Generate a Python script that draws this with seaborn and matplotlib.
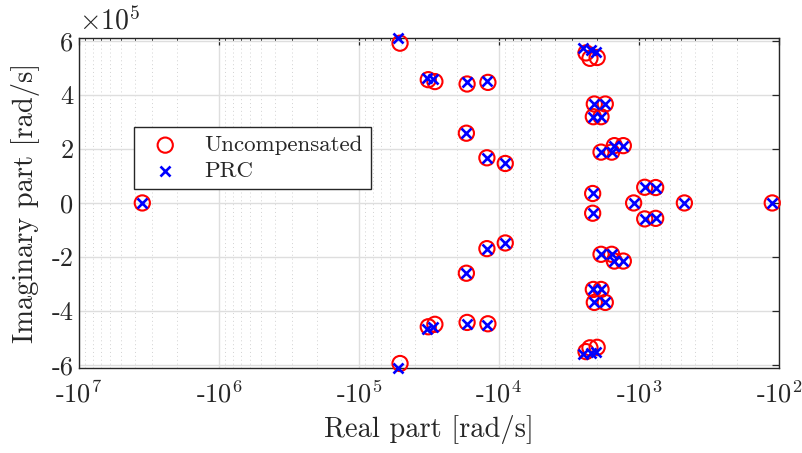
import numpy as np
import pandas as pd
import seaborn as sns
import matplotlib
matplotlib.use("Agg")
import matplotlib.pyplot as plt
from matplotlib.ticker import FixedLocator, FuncFormatter, NullFormatter

# Closed-loop eigenvalues (real part, imaginary part) in rad/s
unc_real = [-3.53e6,
            -5.09e4, -5.09e4, -3.2e4, -3.2e4, -2.87e4, -2.87e4,
            -1.69e4, -1.69e4, -1.2e4, -1.2e4,
            -1.71e4, -1.71e4, -1.22e4, -1.22e4, -9020, -9020,
            -2390, -2390, -2240, -2240, -1990, -1990,
            -2085, -2085, -1741, -1741, -2119, -2119, -1867, -1867,
            -1867, -1867, -1567, -1567, -1500, -1500, -1294, -1294,
            -2142, -2142, -910, -910, -760, -760,
            -1092, -474, -111.7]
unc_imag = [0,
            5.91e5, -5.94e5, 4.56e5, -4.58e5, 4.49e5, -4.49e5,
            4.40e5, -4.42e5, 4.46e5, -4.47e5,
            2.58e5, -2.60e5, 1.67e5, -1.69e5, 1.46e5, -1.48e5,
            5.55e5, -5.50e5, 5.35e5, -5.36e5, 5.38e5, -5.34e5,
            3.66e5, -3.68e5, 3.66e5, -3.68e5, 3.19e5, -3.20e5, 3.19e5, -3.20e5,
            1.88e5, -1.90e5, 1.88e5, -1.90e5, 2.12e5, -2.15e5, 2.12e5, -2.15e5,
            0.35e5, -0.38e5, 0.58e5, -0.59e5, 0.57e5, -0.57e5,
            0, 0, 0]

prc_real = [-3.53e6,
            -5.24e4, -5.24e4, -3.28e4, -3.28e4, -2.94e4, -2.94e4,
            -1.70e4, -1.70e4, -1.22e4, -1.22e4,
            -1.71e4, -1.71e4, -1.22e4, -1.22e4, -9020, -9020,
            -2510, -2510, -2200, -2200, -2030, -2030,
            -2085, -2085, -1741, -1741, -2119, -2119, -1867, -1867,
            -1867, -1867, -1567, -1567, -1500, -1500, -1294, -1294,
            -2142, -2142, -910, -910, -760, -760,
            -1092, -474, -111.7]
prc_imag = [0,
            6.10e5, -6.10e5, 4.62e5, -4.65e5, 4.58e5, -4.58e5,
            4.47e5, -4.48e5, 4.52e5, -4.53e5,
            2.58e5, -2.60e5, 1.67e5, -1.69e5, 1.46e5, -1.48e5,
            5.74e5, -5.59e5, 5.67e5, -5.55e5, 5.59e5, -5.52e5,
            3.66e5, -3.68e5, 3.66e5, -3.68e5, 3.19e5, -3.20e5, 3.19e5, -3.20e5,
            1.88e5, -1.90e5, 1.88e5, -1.90e5, 2.12e5, -2.15e5, 2.12e5, -2.15e5,
            0.35e5, -0.38e5, 0.58e5, -0.59e5, 0.57e5, -0.57e5,
            0, 0, 0]

x_decades = [7, 6, 5, 4, 3, 2]
y_ticks = [-6e5, -4e5, -2e5, 0, 2e5, 4e5, 6e5]

sns.set_theme(style="white")
plt.rcParams["font.family"] = ["cmr10", "DejaVu Serif"]
plt.rcParams["mathtext.fontset"] = "cm"
plt.rcParams["axes.unicode_minus"] = False
plt.rcParams["axes.formatter.use_mathtext"] = True

unc = pd.DataFrame({"Real": unc_real, "Imag": unc_imag})
prc = pd.DataFrame({"Real": prc_real, "Imag": prc_imag})

fig = plt.figure(figsize=(8.02, 4.53), dpi=100)
ax = fig.add_axes([0.0985, 0.188, 0.8728, 0.728])

# Negative-real log axis: -1e7 on the left, -1e2 on the right
ax.set_xscale("function",
              functions=(lambda v: -np.log10(np.clip(-v, 1e-300, None)),
                         lambda u: -np.power(10.0, -u)))

sns.scatterplot(data=unc, x="Real", y="Imag", ax=ax, marker="o", s=120,
                facecolors="none", edgecolor="#ff0000", linewidth=1.5,
                label="Uncompensated", clip_on=False, zorder=3)
sns.scatterplot(data=prc, x="Real", y="Imag", ax=ax, marker="x", s=52,
                color="#0000ff", linewidth=1.9,
                label="PRC", clip_on=False, zorder=4)

ax.set_xlim(-1e7, -1e2)
ax.set_ylim(-6.1e5, 6.1e5)

major_x = [-10.0 ** d for d in x_decades]
minor_x = [-k * 10.0 ** d for d in x_decades[1:] for k in range(2, 10)]
ax.xaxis.set_major_locator(FixedLocator(major_x))
ax.xaxis.set_minor_locator(FixedLocator(minor_x))
ax.xaxis.set_major_formatter(FuncFormatter(
    lambda v, p: "-10$^{%d}$" % round(np.log10(-v))))
ax.xaxis.set_minor_formatter(NullFormatter())

ax.yaxis.set_major_locator(FixedLocator(y_ticks))
ax.yaxis.set_major_formatter(FuncFormatter(lambda v, p: "%d" % round(v / 1e5)))
ax.text(0.0, 1.008, r"$\times10^{5}$", transform=ax.transAxes,
        fontsize=20, ha="left", va="bottom", color="#262626")

ax.grid(True, which="major", color="#dedede", linewidth=1.0, linestyle="-")
ax.grid(True, which="minor", axis="x", color="#d2d2d2", linewidth=0.7,
        linestyle=(0, (1, 3)))
ax.set_axisbelow(True)

ax.tick_params(axis="both", which="both", direction="in", top=True, right=True,
               colors="#262626", labelsize=19)
ax.tick_params(which="major", length=5, width=0.9)
ax.tick_params(which="minor", length=2.5, width=0.6)
ax.tick_params(axis="x", pad=9)
ax.tick_params(axis="y", pad=4)
for s in ax.spines.values():
    s.set_color("#262626")
    s.set_linewidth(1.0)

ax.set_xlabel("Real part [rad/s]", fontsize=20.5, color="#262626", labelpad=6)
ax.set_ylabel("Imaginary part [rad/s]", fontsize=20.5, color="#262626", labelpad=8)

leg = ax.legend(loc="upper left", bbox_to_anchor=(0.079, 0.73), borderaxespad=0,
                fontsize=16.5, frameon=True, fancybox=False, edgecolor="#262626",
                framealpha=1, handletextpad=0.7, borderpad=0.35, labelspacing=0.25,
                handlelength=2.0)
leg.get_frame().set_linewidth(1.0)

fig.savefig("out.png", dpi=100)
